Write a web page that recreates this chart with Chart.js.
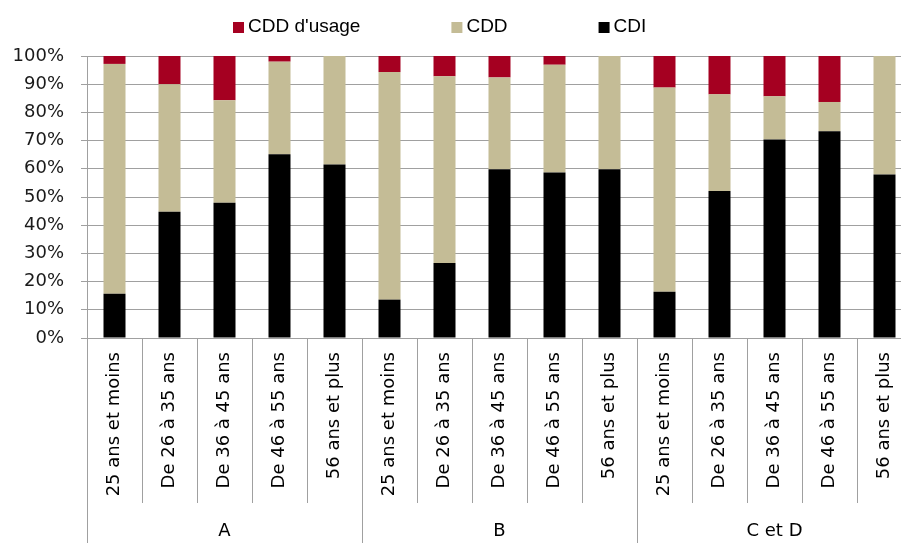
<!DOCTYPE html>
<html>
<head>
<meta charset="utf-8">
<script src="https://cdn.jsdelivr.net/npm/chart.js@4/dist/chart.umd.min.js"></script>
<style>
  html, body { margin: 0; padding: 0; background: #fff; overflow: hidden; }
  #wrap { width: 912px; height: 543px; }
</style>
</head>
<body>
<div id="wrap"><canvas id="c" width="912" height="543"></canvas></div>
<script>
// Age brackets, repeated for each group
const ageGroups = [
  '25 ans et moins', 'De 26 à 35 ans', 'De 36 à 45 ans', 'De 46 à 55 ans', '56 ans et plus',
  '25 ans et moins', 'De 26 à 35 ans', 'De 36 à 45 ans', 'De 46 à 55 ans', '56 ans et plus',
  '25 ans et moins', 'De 26 à 35 ans', 'De 36 à 45 ans', 'De 46 à 55 ans', '56 ans et plus'
];
const groupLabels = ['A', 'B', 'C et D'];

// Shares of each contract type (%)
const cdi      = [15.7, 44.8, 48.0, 65.2, 61.5,  13.6, 26.6, 59.8, 58.7, 59.8,  16.4, 52.1, 70.4, 73.3, 58.0];
const cdd      = [81.5, 45.2, 36.3, 32.8, 38.5,  80.7, 66.2, 32.6, 38.2, 40.2,  72.4, 34.3, 15.3, 10.4, 42.0];
const cddUsage = [ 2.8, 10.0, 15.7,  2.0,  0.0,   5.7,  7.2,  7.6,  3.1,  0.0,  11.2, 13.6, 14.3, 16.3,  0.0];

const seriesNames = ['CDI', 'CDD', "CDD d'usage"];
const yTickLabels = ['0%', '10%', '20%', '30%', '40%', '50%', '60%', '70%', '80%', '90%', '100%'];

const GRID = '#a0a0a0';
Chart.defaults.font.family = '"DejaVu Sans", sans-serif';
Chart.defaults.color = '#000';

// Legend drawn across the top, in stacking order from top to bottom
const topLegend = {
  id: 'topLegend',
  afterDraw(chart) {
    const ctx = chart.ctx;
    ctx.save();
    ctx.font = '19px "Liberation Sans", Arial, sans-serif';
    ctx.textBaseline = 'middle';
    ctx.textAlign = 'left';
    let x = 233;
    const yMid = 27;
    const items = chart.data.datasets.slice().reverse();
    items.forEach(ds => {
      ctx.fillStyle = ds.backgroundColor;
      ctx.fillRect(x, yMid - 5, 11, 11);
      ctx.fillStyle = '#000';
      ctx.fillText(ds.label, x + 15, yMid);
      x += 15 + ctx.measureText(ds.label).width + 91;
    });
    ctx.restore();
  }
};

new Chart(document.getElementById('c'), {
  type: 'bar',
  data: {
    labels: ageGroups,
    datasets: [
      { label: seriesNames[0], data: cdi,      backgroundColor: '#000000' },
      { label: seriesNames[1], data: cdd,      backgroundColor: '#C4BC96' },
      { label: seriesNames[2], data: cddUsage, backgroundColor: '#A50021' }
    ]
  },
  options: {
    responsive: false,
    animation: false,
    layout: { padding: { top: 56, left: 0, right: 0, bottom: 0 } },
    datasets: { bar: { barPercentage: 0.4, categoryPercentage: 1.0 } },
    plugins: { legend: { display: false }, tooltip: { enabled: false } },
    scales: {
      x: {
        type: 'category',
        stacked: true,
        offset: true,
        weight: 0,
        grid: { display: true, drawOnChartArea: false, drawTicks: true, tickLength: 165, offset: true, color: GRID, lineWidth: 1 },
        border: { display: true, color: GRID },
        ticks: { autoSkip: false, minRotation: 90, maxRotation: 90, padding: -151, color: '#000', font: { size: 18 } },
        afterFit(s) { s.height = 165; }
      },
      x2: {
        type: 'category',
        labels: groupLabels,
        position: 'bottom',
        offset: true,
        weight: 1,
        grid: { display: true, drawOnChartArea: false, drawTicks: true, tickLength: 40, offset: true, color: GRID, lineWidth: 1 },
        border: { display: false },
        ticks: { padding: -22, color: '#000', font: { size: 18 } },
        afterFit(s) { s.height = 40; }
      },
      y: {
        stacked: true,
        min: 0,
        max: 100,
        ticks: {
          stepSize: 10,
          padding: 17,
          color: '#1a1a1a',
          font: { size: 18 },
          callback: (v) => yTickLabels[Math.round(v / 10)]
        },
        grid: { color: GRID, lineWidth: 1, drawTicks: true, tickLength: 6 },
        border: { display: true, color: GRID },
        afterFit(s) { s.width = 87; }
      }
    }
  },
  plugins: [topLegend]
});
</script>
</body>
</html>
